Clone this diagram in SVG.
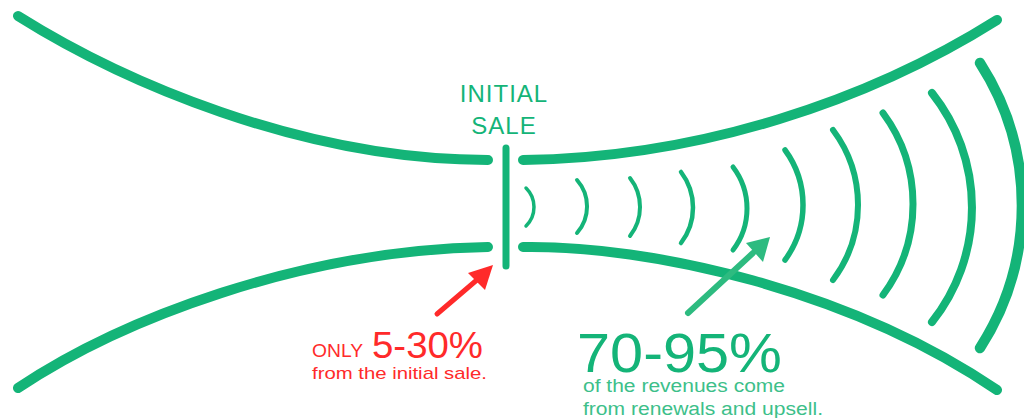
<svg xmlns="http://www.w3.org/2000/svg" width="1024" height="418" viewBox="0 0 1024 418">
  <defs>
    <style>
      .main { fill: none; stroke: #14b478; stroke-linecap: round; stroke-width: 10; }
      .arc { fill: none; stroke: #14b478; stroke-linecap: round; }
      .g { fill: #14b478; font-family: "Liberation Sans", Arial, sans-serif; }
      .lg { fill: #3dbf8a; font-family: "Liberation Sans", Arial, sans-serif; }
      .r { fill: #ff2a2a; font-family: "Liberation Sans", Arial, sans-serif; }
    </style>
  </defs>
  <rect width="1024" height="418" fill="#ffffff"/>
  <g id="funnel">
    <path class="main" d="M18,16 C120,80 300,160 488,160"/>
    <path class="main" d="M18,388 C120,320 300,250 488,247"/>
    <path class="main" d="M523,160 C700,158 870,100 997,20"/>
    <path class="main" d="M523,247 C650,245 850,290 997,390"/>
  </g>
  <g id="initial-sale">
    <line x1="506" y1="148" x2="506" y2="266" stroke="#14b478" stroke-width="7" stroke-linecap="round"/>
    <text class="g" x="504" y="102" font-size="24" text-anchor="middle" letter-spacing="1">INITIAL</text>
    <text class="g" x="504" y="134" font-size="24" text-anchor="middle" letter-spacing="1">SALE</text>
  </g>
  <g id="waves">
    <path class="arc" stroke-width="3.5" d="M526,188 A26.6,26.6 0 0 1 526,226"/>
    <path class="arc" stroke-width="4" d="M577,180 A40,40 0 0 1 577,233"/>
    <path class="arc" stroke-width="4" d="M630,178 A47,47 0 0 1 630,236"/>
    <path class="arc" stroke-width="4.5" d="M681,172 A58.5,58.5 0 0 1 681,243"/>
    <path class="arc" stroke-width="5" d="M733,167 A68.5,68.5 0 0 1 733,250"/>
    <path class="arc" stroke-width="5.5" d="M785,150 A93,93 0 0 1 785,260"/>
    <path class="arc" stroke-width="6" d="M833,130 A125,125 0 0 1 833,280"/>
    <path class="arc" stroke-width="7" d="M883,113 A153,153 0 0 1 883,295"/>
    <path class="arc" stroke-width="8" d="M932,93 A184,184 0 0 1 932,322"/>
    <path class="arc" stroke-width="10.5" d="M980,63 A263,263 0 0 1 980,348"/>
  </g>
  <g id="connectors">
    <line x1="437" y1="314" x2="478" y2="279" stroke="#ff2a2a" stroke-width="5" stroke-linecap="round"/>
    <polygon points="493,265 468,273 485,290" fill="#ff2a2a"/>
    <line x1="688" y1="313" x2="753" y2="253" stroke="#2dbb80" stroke-width="6" stroke-linecap="round"/>
    <polygon points="770,237 746,243 763,262" fill="#2dbb80"/>
  </g>
  <g id="label-initial">
    <text class="r" x="312" y="357" font-size="18" textLength="51" lengthAdjust="spacingAndGlyphs">ONLY</text>
    <text class="r" x="372" y="358" font-size="37" textLength="111" lengthAdjust="spacingAndGlyphs">5-30%</text>
    <text class="r" x="312" y="379" font-size="17" textLength="175" lengthAdjust="spacingAndGlyphs">from the initial sale.</text>
  </g>
  <g id="label-renewals">
    <text class="g" x="577" y="372" font-size="55" textLength="205" lengthAdjust="spacingAndGlyphs">70-95%</text>
    <text class="lg" x="583" y="392" font-size="18" textLength="202" lengthAdjust="spacingAndGlyphs">of the revenues come</text>
    <text class="lg" x="583" y="415" font-size="18" textLength="240" lengthAdjust="spacingAndGlyphs">from renewals and upsell.</text>
  </g>
</svg>
